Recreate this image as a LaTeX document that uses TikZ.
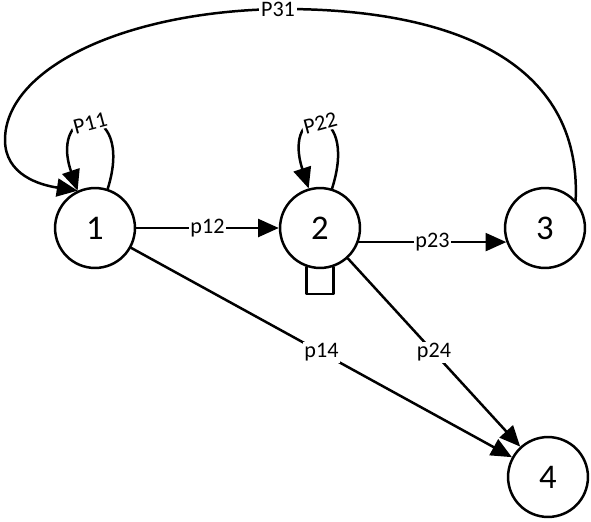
\documentclass[tikz,border=0pt]{standalone}
\usepackage{fontspec}
\setmainfont{Carlito}
\usetikzlibrary{arrows.meta}
\tikzset{
  stnode/.style={draw, circle, line width=1.8pt, minimum size=2.03cm, inner sep=0pt,
    fill=white, font=\fontsize{25}{25}\selectfont},
  lbl/.style={fill=white, inner sep=1.2pt, font=\fontsize{16}{16}\selectfont},
  conn/.style={line width=1.8pt, -{Triangle[length=15pt, width=13pt]}}
}
\begin{document}
\begin{tikzpicture}[x=0.0254cm, y=-0.0254cm, line join=round, line cap=round]
  \useasboundingbox (0,0) rectangle (591,521);
  % States
  \node[stnode] (n1) at (95,228) {1};
  \node[stnode] (n2) at (320,228) {2};
  \node[stnode] (n3) at (545,228) {3};
  \node[stnode] (n4) at (548,477) {4};

  % Transitions
  \draw[conn] (n1) -- node[lbl] {p12} (n2);
  \draw[conn] (n2.-20) -- node[lbl] {p23} (n3.200);
  \draw[conn] (n1) -- node[lbl] {p14} (n4);
  \draw[conn] (n2) -- node[lbl] {p24} (n4);

  % Self loops
  \draw[conn] (n1.72) .. controls +(28,-90) and +(-30,-88) .. node[lbl, rotate=15, pos=0.52] {P11} (n1.115);
  \draw[conn] (n2.73) .. controls +(28,-88) and +(-28,-86) .. node[lbl, rotate=15] {P22} (n2.106);
  \draw[line width=1.8pt] (n2.-109) -- ++(0,27) -| (n2.-71);

  % Return arc 3 -> 1
  \draw[conn] (n3.42) .. controls (582,60) and (450,8) .. (278,9) node[lbl] {P31}
    .. controls (120,12) and (5,70) .. (5,140)
    .. controls (5,175) and (40,185) .. (n1.115);
\end{tikzpicture}
\end{document}
